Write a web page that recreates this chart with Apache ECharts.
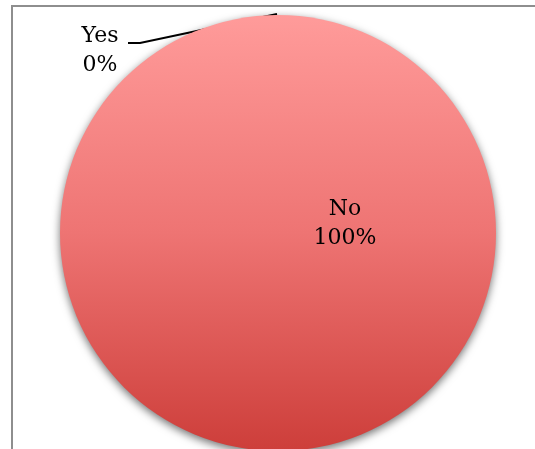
<!DOCTYPE html>
<html>
<head>
<meta charset="utf-8">
<script src="https://cdn.jsdelivr.net/npm/echarts@6/dist/echarts.min.js"></script>
<style>
  html, body { margin: 0; padding: 0; background: #ffffff; }
  #chart { width: 535px; height: 449px; }
</style>
</head>
<body>
<div id="chart"></div>
<script>
// Survey answers and their counts (share of respondents)
const categories = ['Yes', 'No'];
const values = [0, 100];

const chart = echarts.init(document.getElementById('chart'), null, { renderer: 'canvas' });

const FONT = '"DejaVu Serif", "Liberation Serif", serif';

const pieData = categories.map((name, i) => ({ name: name, value: values[i] }));
// The large slice carries its label in its body, right of centre
pieData[1].label = { position: 'center', offset: [67, -9] };
pieData[1].labelLine = { show: false };

chart.setOption({
  animation: false,
  backgroundColor: '#ffffff',
  graphic: [{
    // plot frame, running off the right and bottom edges
    type: 'rect',
    x: 12, y: 6,
    z: -10,
    shape: { x: 0, y: 0, width: 600, height: 600 },
    style: { fill: 'none', stroke: '#8e8e8e', lineWidth: 2 }
  }],
  series: [{
    type: 'pie',
    center: [278, 233],
    radius: 218,
    startAngle: 90,
    clockwise: true,
    avoidLabelOverlap: false,
    minShowLabelAngle: 0,
    data: pieData,
    itemStyle: {
      color: new echarts.graphic.LinearGradient(0, 0, 0, 1, [
        { offset: 0, color: '#FF9B9A' },
        { offset: 0.5, color: '#EE7473' },
        { offset: 1, color: '#CD3E3A' }
      ]),
      shadowBlur: 9,
      shadowColor: 'rgba(0,0,0,0.55)',
      shadowOffsetY: 3
    },
    label: {
      show: true,
      position: 'outside',
      formatter: '{b}\n{d}%',
      fontFamily: FONT,
      fontSize: 22,
      lineHeight: 29,
      color: '#000000',
      align: 'center'
    },
    labelLine: {
      show: true,
      length: 10,
      length2: 10,
      lineStyle: { color: '#000000', width: 2 }
    },
    labelLayout: function (params) {
      if (params.dataIndex !== 0) return {};
      const x = 100, y = 51;
      const start = params.labelLinePoints ? params.labelLinePoints[0] : [278, 15];
      return {
        x: x, y: y,
        align: 'center',
        verticalAlign: 'middle',
        labelLinePoints: [
          [start[0] - 1, start[1] - 1],
          [x + 40, y - 8],
          [x + 28, y - 8]
        ]
      };
    }
  }]
});
</script>
</body>
</html>
